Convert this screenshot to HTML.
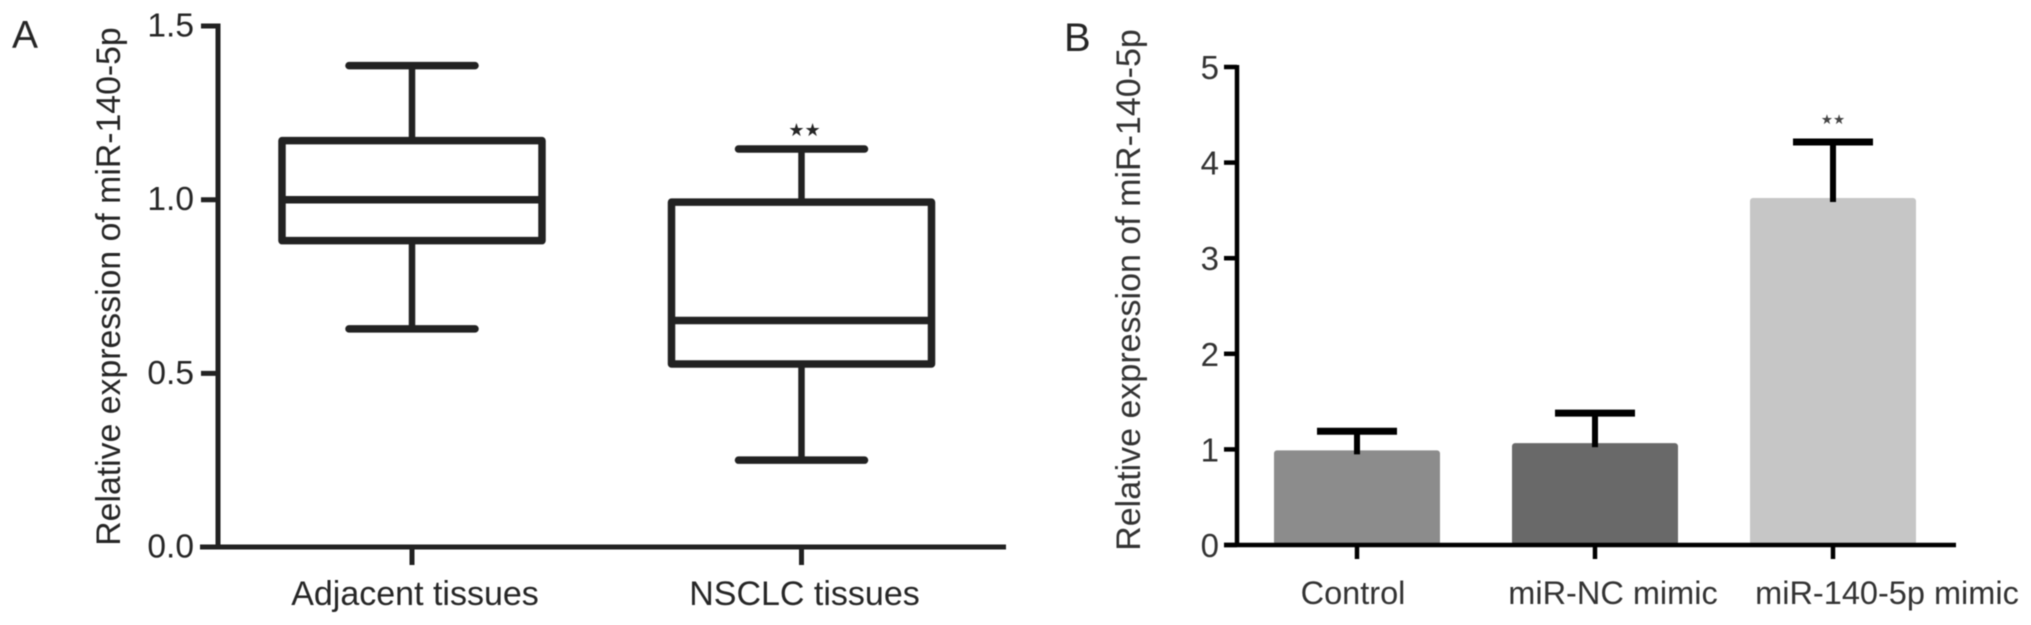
<!DOCTYPE html>
<html>
<head>
<meta charset="utf-8">
<title>Relative expression of miR-140-5p</title>
<style>
html,body{margin:0;padding:0;background:#fff;width:2031px;height:625px;overflow:hidden}
svg{display:block;filter:blur(0.6px)}
text{font-family:"Liberation Sans",sans-serif;fill:#262626}
</style>
</head>
<body>
<svg id="figure" width="2031" height="625" viewBox="0 0 2031 625" xmlns="http://www.w3.org/2000/svg">
  <rect width="2031" height="625" fill="#fff"/>
</svg>
<script>
// Panel A: box plot data
const boxCategories = ['Adjacent tissues', 'NSCLC tissues'];
const boxWhiskerHigh = [1.386, 1.146];
const boxQ3 = [1.17, 0.993];
const boxMedian = [1.0, 0.652];
const boxQ1 = [0.882, 0.527];
const boxWhiskerLow = [0.628, 0.25];
const boxTicks = [0, 0.5, 1.0, 1.5];
const boxTickLabels = ['0.0', '0.5', '1.0', '1.5'];
const boxSignificance = ['', '★★'];

// Panel B: bar chart data
const barCategories = ['Control', 'miR-NC mimic', 'miR-140-5p mimic'];
const barValues = [0.99, 1.065, 3.63];
const barErrorTops = [1.19, 1.38, 4.215];
const barColors = ['#8c8c8c', '#696969', '#c6c6c6'];
const barTicks = [0, 1, 2, 3, 4, 5];
const barTickLabels = ['0', '1', '2', '3', '4', '5'];
const barSignificance = ['', '', '★★'];

const axisTitle = 'Relative expression of miR-140-5p';

const svg = document.getElementById('figure');
const NS = 'http://www.w3.org/2000/svg';

function mk(tag, attrs, content) {
  const el = document.createElementNS(NS, tag);
  for (const k in attrs) el.setAttribute(k, attrs[k]);
  if (content !== undefined) el.textContent = content;
  svg.appendChild(el);
  return el;
}
function seg(x1, y1, x2, y2, color, width, cap) {
  return mk('line', {x1: x1, y1: y1, x2: x2, y2: y2, stroke: color, 'stroke-width': width, 'stroke-linecap': cap || 'butt'});
}

// Axis functions
const yA = v => 547 - 347.3 * v;
const xA = i => 412 + 389.5 * i;
const yB = v => 545 - 95.6 * v;
const xB = i => 1357 + 238 * i;

const INK_A = '#222';
const INK_B = '#000';
let el;

// Panel labels
el = mk('text', {x: 12, y: 48, 'font-size': 39}, 'A');


el = mk('text', {x: 1064, y: 51, 'font-size': 40}, 'B');



// Panel A axes
el = mk('text', {transform: 'translate(120,286.5) rotate(-90)', 'text-anchor': 'middle', 'font-size': 33.8}, axisTitle);


el = seg(218, yA(boxTicks[boxTicks.length - 1]) - 2.5, 218, yA(0) + 2.5, INK_A, 5);


el = seg(200, yA(0), 1006, yA(0), INK_A, 5);


boxTicks.forEach((t, i) => {
  const tick = seg(201, yA(t), 218, yA(t), INK_A, 5);
  
  
  const label = mk('text', {x: 194, y: yA(t) + 10.5, 'text-anchor': 'end', 'font-size': 33.5}, boxTickLabels[i]);
  
  
});

// Panel A boxes
boxCategories.forEach((c, i) => {
  const cx = xA(i);
  const hw = 130;
  const capHw = 63;
  const stemHigh = seg(cx, yA(boxWhiskerHigh[i]), cx, yA(boxQ3[i]), INK_A, 6.5);
  
  
  const stemLow = seg(cx, yA(boxQ1[i]), cx, yA(boxWhiskerLow[i]), INK_A, 6.5);
  
  
  const capHigh = seg(cx - capHw, yA(boxWhiskerHigh[i]), cx + capHw, yA(boxWhiskerHigh[i]), INK_A, 7.5, 'round');
  
  
  const capLow = seg(cx - capHw, yA(boxWhiskerLow[i]), cx + capHw, yA(boxWhiskerLow[i]), INK_A, 7.5, 'round');
  
  
  const box = mk('rect', {x: cx - hw, y: yA(boxQ3[i]), width: hw * 2, height: yA(boxQ1[i]) - yA(boxQ3[i]), fill: 'none', stroke: INK_A, 'stroke-width': 7.5, 'stroke-linejoin': 'round'});
  
  
  const med = seg(cx - hw, yA(boxMedian[i]), cx + hw, yA(boxMedian[i]), INK_A, 7.5);
  
  
  const tick = seg(cx, yA(0), cx, yA(0) + 18, INK_A, 5);
  
  
  const label = mk('text', {x: cx + 3, y: 605, 'text-anchor': 'middle', 'font-size': 34}, c);
  
  
  if (boxSignificance[i]) {
    const star = mk('text', {x: cx + 3, y: yA(boxWhiskerHigh[i]) - 13, 'text-anchor': 'middle', 'font-size': 18, style: 'font-family:"DejaVu Sans",sans-serif'}, boxSignificance[i]);
    
    
  }
});

// Panel B axes
el = mk('text', {transform: 'translate(1140,290) rotate(-90)', 'text-anchor': 'middle', 'font-size': 34, style: 'fill:#333'}, axisTitle);



// Panel B bars
barCategories.forEach((c, i) => {
  const cx = xB(i);
  const hw = 83;
  const bar = mk('rect', {x: cx - hw, y: yB(barValues[i]), width: hw * 2, height: yB(0) - yB(barValues[i]), rx: 3, ry: 3, fill: barColors[i]});
  
  
  const stem = seg(cx, yB(barErrorTops[i]), cx, yB(barValues[i]) + 4, INK_B, 6);
  
  
  const cap = seg(cx - 40, yB(barErrorTops[i]), cx + 40, yB(barErrorTops[i]), INK_B, 7);
  
  
  const tick = seg(cx, yB(0), cx, yB(0) + 14, INK_B, 4.5);
  
  
  const labelOffset = [-4, 18, 54];
  const label = mk('text', {x: cx + labelOffset[i], y: 604, 'text-anchor': 'middle', 'font-size': 32.5, style: 'fill:#333'}, c);
  
  
  if (barSignificance[i]) {
    const star = mk('text', {x: cx, y: yB(barErrorTops[i]) - 18, 'text-anchor': 'middle', 'font-size': 13.5, style: 'font-family:"DejaVu Sans",sans-serif;fill:#444'}, barSignificance[i]);
    
    
  }
});

el = seg(1237, yB(barTicks[barTicks.length - 1]) - 2, 1237, yB(0) + 2, INK_B, 4.5);


el = seg(1224, yB(0), 1956, yB(0), INK_B, 4.5);


barTicks.forEach((t, i) => {
  const tick = seg(1224, yB(t), 1237, yB(t), INK_B, 4.5);
  
  
  const label = mk('text', {x: 1219, y: yB(t) + 12, 'text-anchor': 'end', 'font-size': 33, style: 'fill:#333'}, barTickLabels[i]);
  
  
});
</script>
</body>
</html>
